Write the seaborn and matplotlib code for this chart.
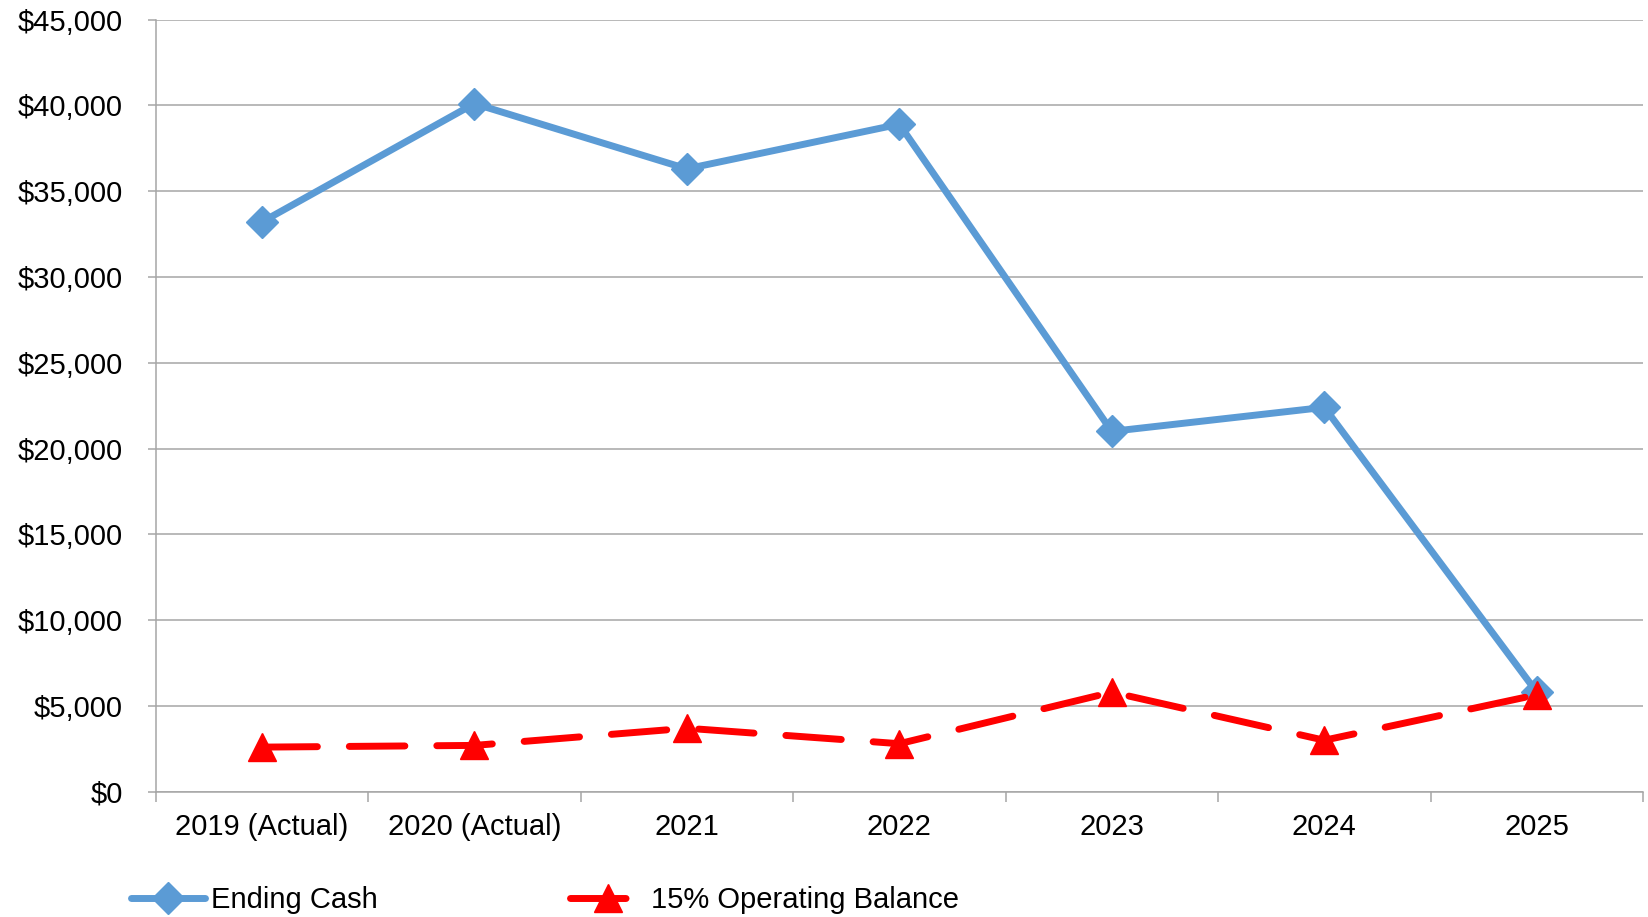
import matplotlib
matplotlib.use("Agg")
import matplotlib.pyplot as plt
from matplotlib.ticker import FuncFormatter, FixedLocator
import seaborn as sns
import pandas as pd

# Data
years = ["2019 (Actual)", "2020 (Actual)", "2021", "2022", "2023", "2024", "2025"]
ending_cash = [33200, 40100, 36300, 38900, 21000, 22400, 5800]
operating_balance = [2600, 2700, 3700, 2800, 5800, 3000, 5650]
y_ticks = [0, 5000, 10000, 15000, 20000, 25000, 30000, 35000, 40000, 45000]

sns.set_style("white")
plt.rcParams["font.family"] = ["Liberation Sans", "DejaVu Sans"]
plt.rcParams["text.color"] = "black"
plt.rcParams["xtick.labelcolor"] = "black"
plt.rcParams["ytick.labelcolor"] = "black"
plt.rcParams["lines.dash_capstyle"] = "round"
plt.rcParams["lines.solid_capstyle"] = "round"

BLUE = "#5B9BD5"
RED = "#FF0000"
GRID = "#A6A6A6"
FS = 21

df = pd.DataFrame({
    "Year": years,
    "Ending Cash": ending_cash,
    "15% Operating Balance": operating_balance,
})

fig = plt.figure(figsize=(16.48, 9.17), dpi=100)
ax = fig.add_axes([0.0944, 0.1366, 0.9026, 0.8421])

sns.lineplot(data=df, x="Year", y="Ending Cash", ax=ax, sort=False,
             color=BLUE, linewidth=5, marker="D", markersize=16,
             markeredgecolor=BLUE, markeredgewidth=1, label="Ending Cash",
             zorder=3)
sns.lineplot(data=df, x="Year", y="15% Operating Balance", ax=ax, sort=False,
             color=RED, linewidth=5, dashes=(8, 4.6), marker="^",
             markersize=20, markeredgecolor=RED, markeredgewidth=1,
             label="15% Operating Balance", zorder=4)

ax.set_xlim(-0.5, len(years) - 0.5)
ax.set_ylim(0, 45000)
ax.set_yticks(y_ticks)
ax.yaxis.set_major_formatter(FuncFormatter(lambda v, _: f"${v:,.0f}"))
ax.set_xlabel("")
ax.set_ylabel("")

# category labels centred, tick marks on category boundaries
ax.set_xticks(range(len(years)))
ax.set_xticklabels(years)
ax.xaxis.set_minor_locator(FixedLocator([i - 0.5 for i in range(len(years) + 1)]))
ax.tick_params(axis="x", which="major", length=0, pad=15, labelsize=FS)
ax.tick_params(axis="x", which="minor", length=7.5, width=1.1, color=GRID, direction="out")
ax.tick_params(axis="y", which="major", length=5.5, width=1.1, color=GRID,
               direction="out", pad=18, labelsize=FS)
ax.tick_params(bottom=True, left=True, which="both")

ax.grid(axis="y", color=GRID, linewidth=1.1)
ax.set_axisbelow(True)
for side in ("top", "right"):
    ax.spines[side].set_visible(False)
for side in ("left", "bottom"):
    ax.spines[side].set_color(GRID)
    ax.spines[side].set_linewidth(1.1)

ax.legend(loc="center left", bbox_to_anchor=(131 / 1648, 1 - 900 / 917),
          bbox_transform=fig.transFigure, ncol=2, frameon=False,
          fontsize=FS, handlelength=2.55, handletextpad=0.2,
          columnspacing=6.6, borderaxespad=0, borderpad=0, numpoints=1)

fig.savefig("out.png", dpi=100)
